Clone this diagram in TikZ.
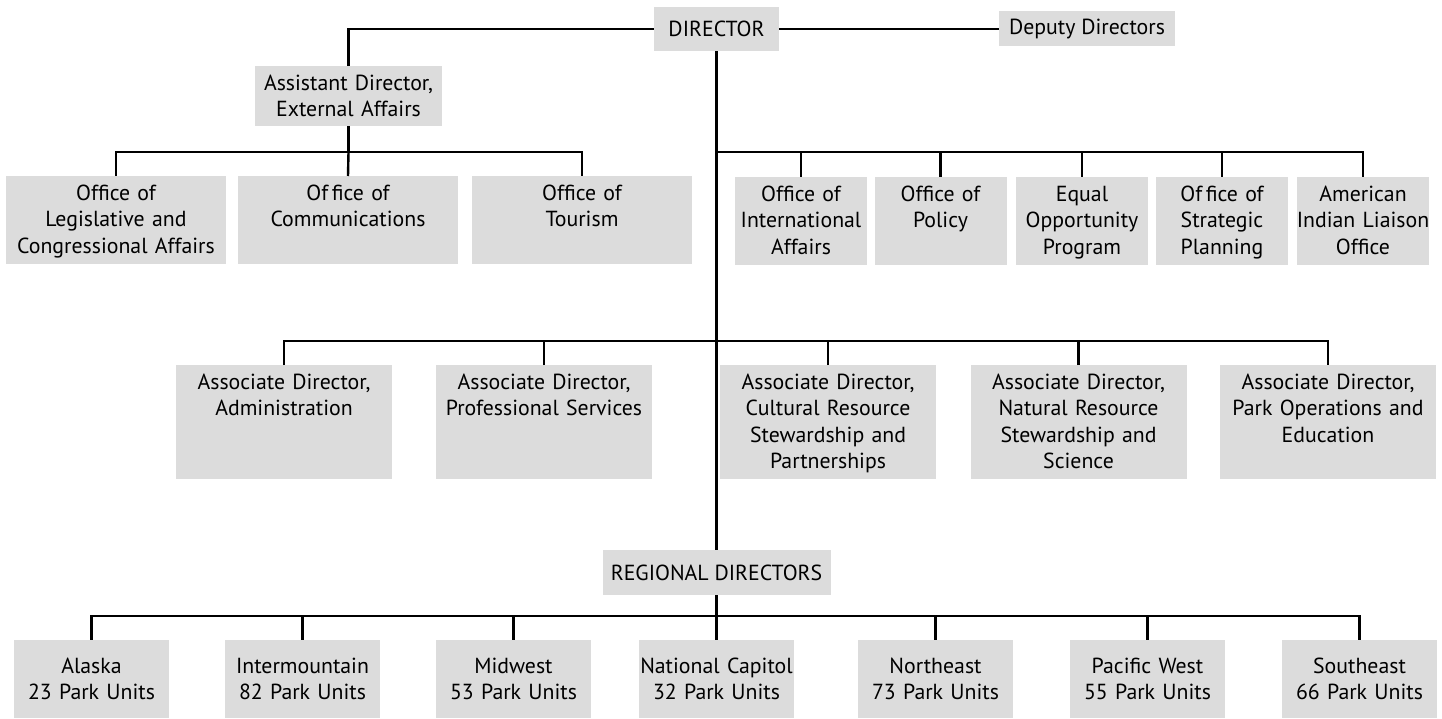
\documentclass[tikz,border=0pt]{standalone}
\usepackage{fontspec}
\setmainfont{PT Sans}
\usepackage{tikz}
\usetikzlibrary{positioning,calc}
\definecolor{boxgray}{RGB}{220,220,220}

\begin{document}
\begin{tikzpicture}[x=1pt,y=-1pt,
    every node/.style={font=\fontsize{21.8}{26.5}\selectfont},
    headbox/.style={fill=boxgray, inner sep=0pt},
    officebox/.style={fill=boxgray, inner sep=0pt, align=center, anchor=north,
        text width=#1, text height=24pt, text depth=64pt},
    assocbox/.style={fill=boxgray, inner sep=0pt, align=center, anchor=north,
        text width=216pt, text height=24pt, text depth=90pt},
    regionbox/.style={fill=boxgray, inner sep=0pt, align=center,
        text width=155pt, minimum height=78pt},
    link/.style={line width=2.4pt}]
    \useasboundingbox (0,0) rectangle (1442,719);

    % Top level
    \node[headbox, minimum width=125pt, minimum height=44pt] (dir) at (716.5,29) {DIRECTOR};
    \node[headbox, minimum width=176pt, minimum height=35pt] (dep) at (1087,29) {Deputy Directors};
    \node[headbox, align=center, text width=187pt, minimum height=60pt] (asst) at (348.5,96)
        {Assistant Director,\\External Affairs};

    % External affairs offices
    \node[officebox=220pt] (leg) at (116,176) {Office of\\Legislative and\\Congressional Affairs};
    \node[officebox=220pt] (comm) at (348,176) {Of\,fice of\\Communications};
    \node[officebox=220pt] (tour) at (582,176) {Office of\\Tourism};

    % Offices under the director
    \node[officebox=132pt] (intl) at (801,177) {Office of\\International\\Affairs};
    \node[officebox=132pt] (policy) at (940.5,177) {Office of\\Policy};
    \node[officebox=132pt] (equal) at (1082,177) {Equal\\Opportunity\\Program};
    \node[officebox=132pt] (strat) at (1222,177) {Of\,fice of\\Strategic\\Planning};
    \node[officebox=132pt] (amer) at (1363,177) {American\\\makebox[\linewidth]{Indian Liaison}\\Office};

    % Associate directors
    \node[assocbox] (admin) at (284,365) {Associate Director,\\Administration};
    \node[assocbox] (prof) at (544,365) {Associate Director,\\Professional Services};
    \node[assocbox] (cult) at (828,365) {Associate Director,\\Cultural Resource\\Stewardship and\\Partnerships};
    \node[assocbox] (nat) at (1078.5,365) {Associate Director,\\Natural Resource\\Stewardship and\\Science};
    \node[assocbox] (park) at (1328,365) {Associate Director,\\Park Operations and\\Education};

    % Regions
    \node[headbox, minimum width=228pt, minimum height=45pt] (reg) at (716.5,572.5) {REGIONAL DIRECTORS};
    \node[regionbox] (alaska) at (91.5,679) {Alaska\\23 Park Units};
    \node[regionbox] (inter) at (302.5,679) {Intermountain\\82 Park Units};
    \node[regionbox] (midwest) at (513.5,679) {Midwest\\53 Park Units};
    \node[regionbox] (natcap) at (716.5,679) {National Capitol\\32 Park Units};
    \node[regionbox] (neast) at (935.5,679) {Northeast\\73 Park Units};
    \node[regionbox] (pacific) at (1147.5,679) {Pacific West\\55 Park Units};
    \node[regionbox] (seast) at (1359.5,679) {Southeast\\66 Park Units};

    \coordinate (extbus) at (348.5,152);
    \coordinate (offbus) at (716.5,152);
    \coordinate (assocbus) at (716.5,341);
    \coordinate (regbus) at (716.5,616);

    % Director lines
    \draw[link] (dir.west) -| (asst.north);
    \draw[link] (dir.east) -- (dep.west);
    \draw[link] (dir.south) -- (reg.north);

    % External affairs branch
    \draw[link] (asst.south) -- (extbus);
    \draw[link] (leg.north) |- (extbus) -| (tour.north);
    \draw[link] (extbus) -- (comm.north);

    % Staff offices branch
    \draw[link] (offbus) -| (amer.north);
    \draw[link] (intl.north) -- (intl.north |- offbus);
    \draw[link] (policy.north) -- (policy.north |- offbus);
    \draw[link] (equal.north) -- (equal.north |- offbus);
    \draw[link] (strat.north) -- (strat.north |- offbus);

    % Associate directors branch
    \draw[link] (admin.north) |- (assocbus) -| (park.north);
    \draw[link] (prof.north) -- (prof.north |- assocbus);
    \draw[link] (cult.north) -- (cult.north |- assocbus);
    \draw[link] (nat.north) -- (nat.north |- assocbus);

    % Regions branch
    \draw[link] (reg.south) -- (natcap.north);
    \draw[link] (alaska.north) |- (regbus) -| (seast.north);
    \draw[link] (inter.north) -- (inter.north |- regbus);
    \draw[link] (midwest.north) -- (midwest.north |- regbus);
    \draw[link] (neast.north) -- (neast.north |- regbus);
    \draw[link] (pacific.north) -- (pacific.north |- regbus);
\end{tikzpicture}
\end{document}
